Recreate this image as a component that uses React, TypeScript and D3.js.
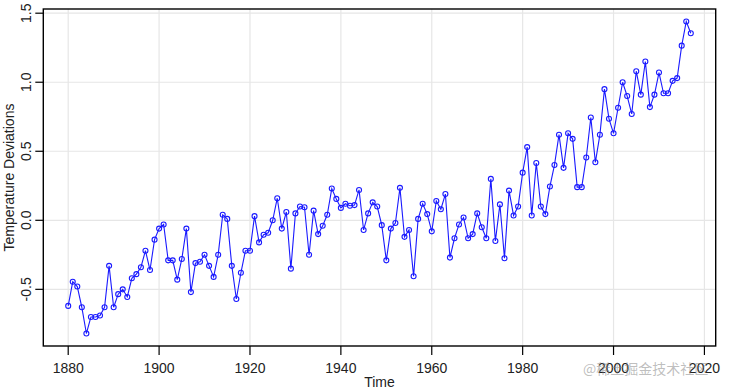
import React from "react";
import * as d3 from "d3";

const startYear = 1880;
const tempValues: number[] = [
  // 1880-1889
  -0.62, -0.445, -0.48, -0.63, -0.82, -0.7, -0.7, -0.69, -0.63, -0.33,
  // 1890-1899
  -0.63, -0.535, -0.5, -0.555, -0.42, -0.39, -0.34, -0.22, -0.36, -0.14,
  // 1900-1909
  -0.06, -0.03, -0.29, -0.29, -0.43, -0.28, -0.06, -0.52, -0.31, -0.3,
  // 1910-1919
  -0.25, -0.33, -0.41, -0.25, 0.04, 0.01, -0.33, -0.57, -0.38, -0.22,
  // 1920-1929
  -0.22, 0.03, -0.16, -0.105, -0.09, 0.0, 0.16, -0.06, 0.06, -0.35,
  // 1930-1939
  0.05, 0.1, 0.095, -0.25, 0.07, -0.1, -0.04, 0.04, 0.23, 0.155,
  // 1940-1949
  0.09, 0.12, 0.105, 0.11, 0.22, -0.07, 0.05, 0.13, 0.1, -0.035,
  // 1950-1959
  -0.29, -0.06, -0.02, 0.235, -0.12, -0.07, -0.405, 0.01, 0.12, 0.045,
  // 1960-1969
  -0.08, 0.14, 0.08, 0.19, -0.27, -0.13, -0.03, 0.02, -0.13, -0.1,
  // 1970-1979
  0.05, -0.05, -0.13, 0.3, -0.15, 0.115, -0.275, 0.215, 0.035, 0.1,
  // 1980-1989
  0.345, 0.53, 0.035, 0.415, 0.1, 0.045, 0.245, 0.4, 0.62, 0.38,
  // 1990-1999
  0.63, 0.59, 0.24, 0.24, 0.455, 0.745, 0.42, 0.62, 0.95, 0.735,
  // 2000-2009
  0.63, 0.815, 1.0, 0.9, 0.77, 1.08, 0.91, 1.15, 0.82, 0.91,
  // 2010-2017
  1.07, 0.92, 0.92, 1.01, 1.03, 1.265, 1.44, 1.355,
];
const years: number[] = tempValues.map((_, i) => startYear + i);

const xTicks: number[] = [1880, 1900, 1920, 1940, 1960, 1980, 2000, 2020];
const yTicks: number[] = [-0.5, 0, 0.5, 1.0, 1.5];
const yTickLabels: string[] = ["-0.5", "0.0", "0.5", "1.0", "1.5"];

const W = 733;
const H = 390;
const left = 43.3;
const right = 715.7;
const top = 9;
const bottom = 346;

export default function App() {
  const [x0, x1] = d3.extent(years) as [number, number];
  const [y0, y1] = d3.extent(tempValues) as [number, number];
  const xp = (x1 - x0) * 0.04;
  const yp = (y1 - y0) * 0.04;
  const x = d3.scaleLinear().domain([x0 - xp, x1 + xp]).range([left, right]);
  const y = d3.scaleLinear().domain([y0 - yp, y1 + yp]).range([bottom, top]);

  const line = d3
    .line<number>()
    .x((_, i) => x(years[i]))
    .y((d) => y(d));

  const font = "'Liberation Sans', Arial, sans-serif";
  const gridColor = "#e6e6e6";

  return (
    <div style={{ position: "absolute", left: 0, top: 0 }}>
      <svg width={W} height={H} style={{ display: "block", background: "#fff" }}>
        {/* grid */}
        {xTicks.map((t) => (
          <line key={"gx" + t} x1={x(t)} x2={x(t)} y1={top} y2={bottom} stroke={gridColor} strokeWidth={1.2} />
        ))}
        {yTicks.map((t) => (
          <line key={"gy" + t} x1={left} x2={right} y1={y(t)} y2={y(t)} stroke={gridColor} strokeWidth={1.2} />
        ))}

        {/* series */}
        <path d={line(tempValues) || ""} fill="none" stroke="#1a1aff" strokeWidth={1.1} />
        {tempValues.map((v, i) => (
          <circle key={"p" + i} cx={x(years[i])} cy={y(v)} r={2.5} fill="none" stroke="#1a1aff" strokeWidth={1.1} />
        ))}

        {/* box */}
        <rect x={left} y={top} width={right - left} height={bottom - top} fill="none" stroke="#000" strokeWidth={1.4} />

        {/* x axis ticks */}
        {xTicks.map((t) => (
          <g key={"xt" + t}>
            <line x1={x(t)} x2={x(t)} y1={bottom} y2={bottom + 9} stroke="#000" strokeWidth={1.2} />
            <text x={x(t)} y={368} textAnchor="middle" dominantBaseline="central" fontFamily={font} fontSize={14} fill="#222">
              {t}
            </text>
          </g>
        ))}

        {/* y axis ticks */}
        {yTicks.map((t, i) => (
          <g key={"yt" + t}>
            <line x1={left - 8} x2={left} y1={y(t)} y2={y(t)} stroke="#000" strokeWidth={1.2} />
            <text
              transform={`translate(26,${y(t)}) rotate(-90)`}
              textAnchor="middle"
              dominantBaseline="central"
              fontFamily={font}
              fontSize={14}
              fill="#222"
            >
              {yTickLabels[i]}
            </text>
          </g>
        ))}

        {/* axis titles */}
        <text
          transform={`translate(9,${(top + bottom) / 2}) rotate(-90)`}
          textAnchor="middle"
          dominantBaseline="central"
          fontFamily={font}
          fontSize={14}
          fill="#222"
        >
          Temperature Deviations
        </text>
        <text x={(left + right) / 2} y={382} textAnchor="middle" dominantBaseline="central" fontFamily={font} fontSize={14} fill="#222">
          Time
        </text>

        {/* watermark */}
        <text x={583} y={368} dominantBaseline="central" fontFamily="'Noto Sans CJK SC', sans-serif" fontSize={14} fill="#888" fillOpacity={0.55}>
          @稀土掘金技术社区
        </text>
      </svg>
    </div>
  );
}
